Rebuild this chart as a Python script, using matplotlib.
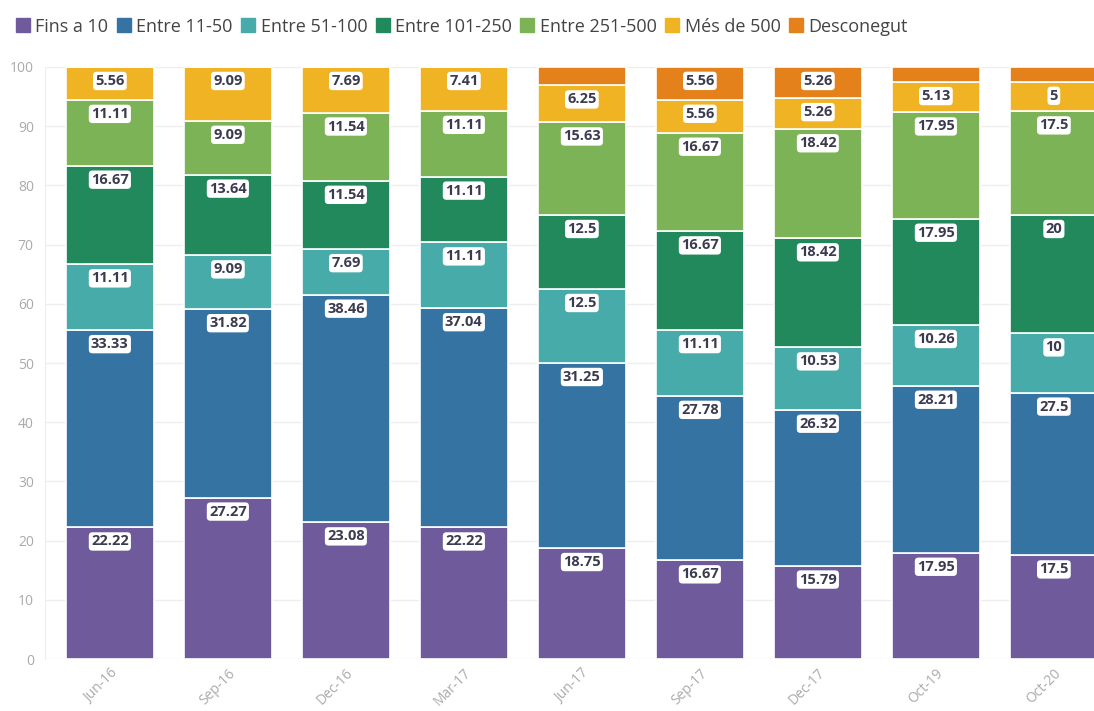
import matplotlib
matplotlib.use('Agg')
from matplotlib import pyplot as plt
from matplotlib.lines import Line2D
import numpy as np

plt.rcParams['font.family'] = ['Open Sans', 'DejaVu Sans']

periods = ['Jun-16', 'Sep-16', 'Dec-16', 'Mar-17', 'Jun-17', 'Sep-17', 'Dec-17', 'Oct-19', 'Oct-20']
groups = ['Fins a 10', 'Entre 11-50', 'Entre 51-100', 'Entre 101-250', 'Entre 251-500', 'Més de 500', 'Desconegut']
colors = ['#6f5a9c', '#3473a2', '#47aba9', '#22895d', '#7cb356', '#f0b323', '#e5811b']

fins_10 = [22.22, 27.27, 23.08, 22.22, 18.75, 16.67, 15.79, 17.95, 17.5]
entre_11_50 = [33.33, 31.82, 38.46, 37.04, 31.25, 27.78, 26.32, 28.21, 27.5]
entre_51_100 = [11.11, 9.09, 7.69, 11.11, 12.5, 11.11, 10.53, 10.26, 10]
entre_101_250 = [16.67, 13.64, 11.54, 11.11, 12.5, 16.67, 18.42, 17.95, 20]
entre_251_500 = [11.11, 9.09, 11.54, 11.11, 15.63, 16.67, 18.42, 17.95, 17.5]
mes_500 = [5.56, 9.09, 7.69, 7.41, 6.25, 5.56, 5.26, 5.13, 5]
desconegut = [0, 0, 0, 0, 3.13, 5.56, 5.26, 2.56, 2.5]

series = [fins_10, entre_11_50, entre_51_100, entre_101_250, entre_251_500, mes_500, desconegut]

fig = plt.figure(figsize=(10.94, 7.11), dpi=100)
ax = fig.add_axes([0.0411, 0.0731, 0.9589, 0.8327])

x = np.arange(len(periods))
bottom = np.zeros(len(periods))
for vals, col in zip(series, colors):
    vals = np.array(vals, dtype=float)
    ax.bar(x, vals, 0.75, bottom=bottom, color=col, edgecolor='white', linewidth=1.2, zorder=2)
    top = bottom + vals
    for xi, v, t in zip(x, vals, top):
        if v < 4:
            continue
        txt = ('%.2f' % v).rstrip('0').rstrip('.')
        ax.annotate(txt, (xi, t), xytext=(0, -14), textcoords='offset pixels',
                    ha='center', va='center', fontsize=10.5, fontweight='bold', color='#3b3b50',
                    bbox=dict(boxstyle='round,pad=0.15,rounding_size=0.25', fc='white', ec='none'),
                    zorder=4)
    bottom = top

ax.set_xlim(-0.55, 8.34)
ax.set_ylim(0, 100)
ax.set_yticks(np.arange(0, 101, 10))
ax.set_xticks(x)
ax.set_xticklabels(periods, rotation=45, ha='right', rotation_mode='anchor')
ax.tick_params(axis='both', colors='#aaaaaa', labelcolor='#aaaaaa', labelsize=10, length=0)
ax.tick_params(axis='x', pad=5)
ax.tick_params(axis='y', pad=8)
ax.grid(axis='y', color='#eeeeee', linewidth=1, zorder=0)
for s in ['top', 'right', 'bottom']:
    ax.spines[s].set_visible(False)
ax.spines['left'].set_color('#eeeeee')

handles = [Line2D([], [], marker='s', linestyle='none', markersize=10, markerfacecolor=c, markeredgecolor=c)
           for c in colors]
fig.legend(handles, groups, loc='upper left', bbox_to_anchor=(0.0, 0.998), ncol=7, frameon=False,
           fontsize=13, handletextpad=0.35, columnspacing=0.5, handlelength=0.7, labelcolor='#444444')

fig.savefig('out.png', dpi=100)
